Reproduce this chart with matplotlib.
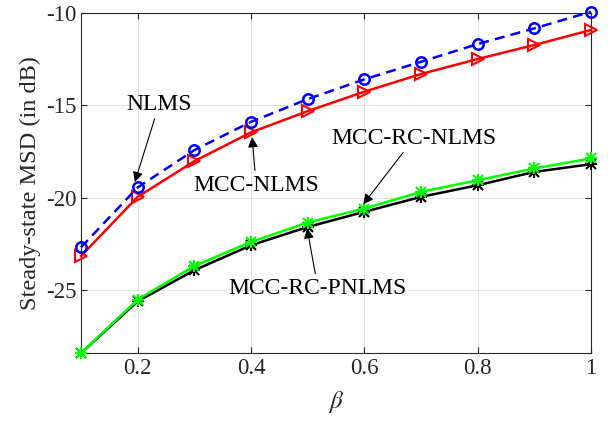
import numpy as np
import matplotlib
matplotlib.use("Agg")
import matplotlib.pyplot as plt

plt.rcParams['font.family'] = ['Liberation Serif', 'DejaVu Serif']
plt.rcParams['mathtext.fontset'] = 'stix'

# step size values
beta = [0.1, 0.2, 0.3, 0.4, 0.5, 0.6, 0.7, 0.8, 0.9, 1.0]

# steady-state MSD (dB)
msd_nlms = [-22.68, -19.44, -17.42, -15.89, -14.66, -13.59, -12.64, -11.68, -10.83, -9.93]
msd_mcc_nlms = [-23.15, -19.95, -18.02, -16.46, -15.31, -14.26, -13.30, -12.49, -11.73, -10.92]
msd_rc_nlms = [-28.40, -25.51, -23.69, -22.39, -21.34, -20.58, -19.68, -19.05, -18.41, -17.87]
msd_rc_pnlms = [-28.40, -25.60, -23.92, -22.57, -21.58, -20.76, -19.95, -19.32, -18.60, -18.18]

xticks = [0.2, 0.4, 0.6, 0.8, 1.0]
xticklabels = ['0.2', '0.4', '0.6', '0.8', '1']
yticks = [-25, -20, -15, -10]
yticklabels = ['-25', '-20', '-15', '-10']

fig = plt.figure(figsize=(6.11, 4.21), dpi=100)
ax = fig.add_axes([0.1326, 0.1615, 0.8347, 0.8076])

lw = 1.8
# asterisk markers = '+' and 'x' drawn on top of each other
ax.plot(beta, msd_rc_pnlms, color='k', lw=lw, marker='+', ms=9, mew=1.5, zorder=3, clip_on=False)
ax.plot(beta, msd_rc_pnlms, color='k', lw=0, marker='x', ms=6.5, mew=1.5, zorder=3, clip_on=False)
ax.plot(beta, msd_rc_nlms, color='#00ff00', lw=lw, marker='+', ms=9, mew=1.5, zorder=4, clip_on=False)
ax.plot(beta, msd_rc_nlms, color='#00ff00', lw=0, marker='x', ms=6.5, mew=1.5, zorder=4, clip_on=False)
ax.plot(beta, msd_mcc_nlms, color='r', lw=lw, marker='>', ms=9, mew=1.5,
        mfc='none', zorder=5, clip_on=False)
ax.plot(beta, msd_nlms, color='b', lw=lw, ls=(0, (4, 2.5)), marker='o', ms=7.5,
        mew=1.8, mfc='none', zorder=6, clip_on=False)

ax.set_xlim(0.1, 1.0)
ax.set_ylim(-28.4, -10)
ax.set_xticks(xticks)
ax.set_xticklabels(xticklabels)
ax.set_yticks(yticks)
ax.set_yticklabels(yticklabels)
ax.grid(True, color='#e3e3e3', lw=0.8)
ax.set_axisbelow(True)
ax.tick_params(direction='in', top=True, right=True, labelsize=16.5,
               colors='#262626', length=4, width=0.8)
for s in ax.spines.values():
    s.set_color('#262626')
    s.set_linewidth(0.8)

ax.set_xlabel(r'$\beta$', fontsize=18, color='#262626', labelpad=7)
ax.set_ylabel('Steady-state MSD (in dB)', fontsize=17.5, color='#262626', labelpad=3)

arr = dict(arrowstyle='-|>', color='k', lw=0.8, mutation_scale=15, shrinkA=1, shrinkB=0)
ax.annotate('NLMS', xy=(0.195, -19.15), xytext=(0.238, -14.93), fontsize=17,
            ha='center', va='center', arrowprops=arr, zorder=10)
ax.annotate('MCC-NLMS', xy=(0.402, -16.72), xytext=(0.409, -19.32), fontsize=17,
            ha='center', va='center', arrowprops=arr, zorder=10)
ax.annotate('MCC-RC-NLMS', xy=(0.598, -20.35), xytext=(0.688, -16.77), fontsize=17,
            ha='center', va='center', arrowprops=arr, zorder=10)
ax.annotate('MCC-RC-PNLMS', xy=(0.499, -21.65), xytext=(0.518, -24.9), fontsize=17,
            ha='center', va='center', arrowprops=arr, zorder=10)

fig.savefig('out.png', dpi=100)
